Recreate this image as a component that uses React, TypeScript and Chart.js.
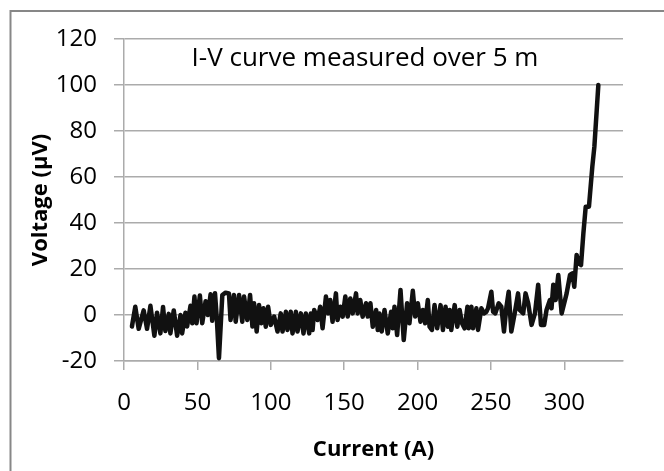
import React, { useEffect, useRef } from "react";
import { Chart, registerables } from "chart.js";

Chart.register(...registerables);

const CURRENT = [
  5.4, 7.7, 10.0, 13.4, 15.7, 18.0, 20.7, 22.5, 24.8, 26.6, 28.2, 30.5, 31.6, 33.9, 36.2, 38.5, 39.6, 41.9, 43.0, 45.3,
  46.5, 48.0, 49.4, 51.7, 53.3, 55.6, 57.2, 59.0, 60.1, 62.0, 63.2, 64.7, 67.0, 69.2, 71.5, 72.6, 74.9, 76.1, 78.4, 80.6,
  81.8, 84.0, 85.9, 87.5, 88.6, 90.4, 92.0, 93.6, 95.0, 96.6, 98.2, 100.0, 102.3, 104.6, 106.8, 108.0, 110.3, 111.4, 113.6, 114.8,
  117.1, 118.2, 120.5, 122.3, 123.9, 126.2, 127.3, 128.5, 129.6, 131.9, 133.7, 135.3, 137.6, 139.2, 140.5, 142.1, 144.4, 145.5, 147.4, 149.0,
  150.8, 152.4, 154.2, 155.8, 158.1, 159.2, 161.0, 162.6, 164.9, 166.1, 167.9, 169.5, 171.8, 172.9, 174.0, 175.6, 177.5, 179.7, 182.0, 183.1,
  184.3, 186.1, 188.4, 190.6, 192.9, 194.5, 196.8, 198.4, 200.2, 202.0, 203.6, 205.2, 207.0, 208.2, 209.8, 211.6, 213.4, 215.7, 217.3, 219.1,
  220.7, 221.9, 223.0, 225.3, 227.1, 228.7, 230.3, 232.1, 234.0, 234.9, 236.7, 237.8, 240.1, 241.2, 243.5, 245.3, 246.9, 248.0, 250.3, 251.5,
  253.0, 255.3, 257.1, 258.9, 260.6, 262.1, 263.9, 266.2, 268.5, 269.6, 272.0, 273.6, 275.4, 277.7, 280.0, 282.2, 284.1, 286.3, 287.9, 290.2,
  291.3, 292.5, 294.1, 295.9, 298.2, 301.6, 303.9, 305.5, 306.8, 308.4, 310.0, 311.4, 313.0, 314.6, 316.8, 319.1, 320.5, 322.1, 323.2,
];

const VOLTAGE = [
  -5, 3.6, -6, 2, -6, 4, -9, 1, -8, 3.5, -7, 0.5, -8, 2, -9, 0, -8, 1, -5, 4,
  -3.6, 8, -3.6, 8.5, -3.6, 6, 0, 9, -2.5, 9.5, -1, -18.8, 8.7, 9.7, 9.4, -2.2, 8.7, -2.9, 8.7, -2.9,
  8, -2.2, 8.7, -5, 5.1, -7.2, 4.3, -3.6, 2.9, -5.1, 3.6, -4.3, -0.7, -7.2, 0.7, -7.2, 1.4, -6.5, 1.4, -8,
  1.4, -7.2, 0.7, -8, 0.7, -8, 0.7, -6.5, 2.2, -2.2, 3.6, -5.8, 8, 0.7, 6.5, -2.9, 9.4, -2.2, 3.6, -0.7,
  8, -0.7, 7.2, 0.7, 9.4, 0.7, 6.5, -0.7, 5.1, -0.7, 5.1, -5.1, 2.2, -6.5, 0.7, -7.2, 2.2, -8, 1.4, -5.8,
  3.6, -8.7, 10.9, -10.9, 5.1, -3.6, 10.5, -0.7, 5.1, -2.9, 2.2, -3.6, 6.5, -5.1, -6.5, 4.3, -5.8, 4.3, -6.5, 3.6,
  -5.1, 2.2, -6.5, 4.3, -5.1, 2.2, -3.6, -5.8, 3.6, -5.8, 3.6, -5.8, 2.9, -6.5, 2.9, 0.7, 1.4, 2.9, 10.1, 1.4,
  0.7, 5.1, 3.6, -7.2, 3.6, 10.1, -7.2, 0.7, 9.4, 2.2, 0.7, 9.4, 5.1, -4.3, 0.7, 13.2, -4.3, -4.3, 2.2, 6.5,
  2.9, 13.2, 6.5, 17.4, 0.7, 9.4, 17.4, 18.1, 12.3, 26.1, 22.5, 21.7, 35.5, 47.1, 47.1, 64.5, 73.2, 89.1, 100,
];

const X_MIN = 0;
const X_MAX = 340;
const X_STEP = 50;
const Y_MIN = -20;
const Y_MAX = 120;
const Y_STEP = 20;

const CHART_TITLE = "I-V curve measured over 5 m";
const X_TITLE = "Current (A)";
const Y_TITLE = "Voltage (µV)";

const FONT = "'Open Sans', 'Noto Sans', sans-serif";
const GRID = "#ababab";

export default function App() {
  const ref = useRef<HTMLCanvasElement | null>(null);

  useEffect(() => {
    if (!ref.current) return;
    const points = CURRENT.map((x, i) => ({ x, y: VOLTAGE[i] }));

    const frame = {
      id: "frame",
      beforeDraw(chart: any) {
        const ctx = chart.ctx;
        ctx.save();
        ctx.fillStyle = "#ffffff";
        ctx.fillRect(0, 0, chart.width, chart.height);
        ctx.strokeStyle = "#878787";
        ctx.lineWidth = 2;
        ctx.strokeRect(10.5, 11, 800, 600);
        ctx.restore();
      },
      afterDatasetsDraw(chart: any) {
        const ctx = chart.ctx;
        const a = chart.chartArea;
        ctx.save();
        ctx.fillStyle = "#000";
        ctx.font = `26px ${FONT}`;
        ctx.textAlign = "center";
        ctx.textBaseline = "middle";
        ctx.fillText(CHART_TITLE, 365, a.top + 20);
        ctx.restore();
      },
    };

    const chart = new Chart(ref.current, {
      type: "scatter",
      data: {
        datasets: [
          {
            data: points,
            showLine: true,
            borderColor: "#111111",
            borderWidth: 4.5,
            borderJoinStyle: "round",
            borderCapStyle: "round",
            pointRadius: 0,
            pointHoverRadius: 0,
            tension: 0,
          } as any,
        ],
      },
      options: {
        responsive: false,
        animation: false,
        devicePixelRatio: 1,
        layout: { padding: { left: 10, top: 39, right: 41, bottom: 0 } },
        plugins: {
          legend: { display: false },
          tooltip: { enabled: false },
          title: { display: false },
        },
        scales: {
          x: {
            type: "linear",
            min: X_MIN,
            max: X_MAX,
            afterFit: (s: any) => {
              s.height = 110;
            },
            afterBuildTicks: (s: any) => {
              s.ticks = s.ticks.filter((t: any) => t.value % X_STEP === 0);
            },
            ticks: {
              stepSize: X_STEP,
              includeBounds: false,
              color: "#000",
              font: { family: FONT, size: 24 },
              padding: 19,
              maxRotation: 0,
              autoSkip: false,
            },
            grid: {
              drawOnChartArea: false,
              drawTicks: true,
              tickLength: 9,
              color: GRID,
              lineWidth: 1.5,
            },
            border: { display: true, color: GRID, width: 1.5 },
            title: {
              display: true,
              text: X_TITLE,
              color: "#000",
              font: { family: FONT, size: 22, weight: "bold" },
              padding: { top: 0, bottom: 8 },
            },
          },
          y: {
            type: "linear",
            min: Y_MIN,
            max: Y_MAX,
            afterFit: (s: any) => {
              s.width = 114;
            },
            ticks: {
              stepSize: Y_STEP,
              color: "#000",
              font: { family: FONT, size: 24 },
              padding: 17,
              autoSkip: false,
            },
            grid: {
              drawOnChartArea: true,
              drawTicks: true,
              tickLength: 10,
              color: GRID,
              lineWidth: 1.5,
            },
            border: { display: true, color: GRID, width: 1.5 },
            title: {
              display: true,
              text: Y_TITLE,
              color: "#000",
              font: { family: FONT, size: 22, weight: "bold" },
              padding: { top: 18, bottom: 0 },
            },
          },
        },
      },
      plugins: [frame],
    });

    return () => chart.destroy();
  }, []);

  return (
    <div style={{ position: "fixed", left: 0, top: 0, width: 664, height: 471, background: "#fff" }}>
      <canvas ref={ref} width={664} height={471} style={{ display: "block" }} />
    </div>
  );
}
